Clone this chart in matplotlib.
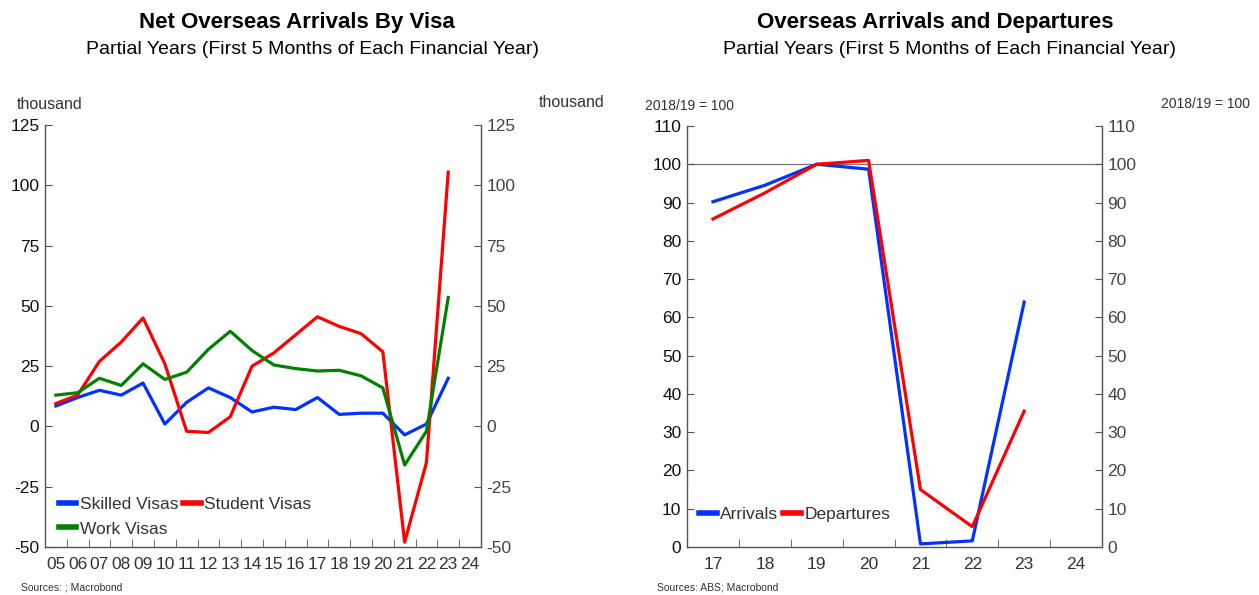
import matplotlib.pyplot as plt
from matplotlib.ticker import FixedLocator

plt.rcParams['font.family'] = ['Liberation Sans', 'DejaVu Sans']

# Left panel data: net overseas arrivals by visa (thousand)
years_left = [5, 6, 7, 8, 9, 10, 11, 12, 13, 14, 15, 16, 17, 18, 19, 20, 21, 22, 23]
skilled = [8.5, 12, 15, 13, 18, 1, 10, 16, 12, 6, 8, 7, 12, 5, 5.5, 5.5, -3.5, 1, 20]
student = [9.5, 13, 27, 35, 45, 26, -2, -2.5, 4, 25, 30.5, 38, 45.5, 41.5, 38.5, 31, -48, -15, 105.5]
work = [13, 14, 20, 17, 26, 19.5, 22.5, 32, 39.5, 31.5, 25.5, 24, 23, 23.3, 21, 16, -16, -2, 53.5]
left_ticks = list(range(5, 25))
left_labels = [f"{y:02d}" for y in left_ticks]

# Right panel data: overseas arrivals and departures (2018/19 = 100)
years_right = [17, 18, 19, 20, 21, 22, 23]
arrivals = [90.2, 94.5, 100, 98.7, 0.8, 1.6, 64]
departures = [85.7, 92.5, 100, 101, 15, 5.3, 35.5]
right_ticks = list(range(17, 25))
right_labels = [str(y) for y in right_ticks]

BLUE = '#0033ff'
RED = '#ff0000'
GREEN = '#008000'
SPINE = '#555555'
TICK_SIZE = 12.5

fig = plt.figure(figsize=(12.59, 5.95), dpi=100)
ax1 = fig.add_axes([0.0357, 0.0807, 0.3463, 0.709])
ax2 = fig.add_axes([0.5457, 0.0807, 0.3296, 0.7076])


def style_axes(ax, xticks, xlabels, xlim, ylim, yticks):
    ax.set_xlim(*xlim)
    ax.set_ylim(*ylim)
    ax.spines['top'].set_visible(False)
    for s in ['left', 'right', 'bottom']:
        ax.spines[s].set_color(SPINE)
        ax.spines[s].set_linewidth(1.0)
    ax.set_yticks(yticks)
    ax.set_yticklabels([f"{v:g}" for v in yticks])
    ax.tick_params(axis='y', which='major', direction='in', length=5, color=SPINE,
                   labelsize=TICK_SIZE, labelcolor='#111111', left=True, right=True,
                   labelleft=True, labelright=False, pad=4)
    # right-hand copy of the y labels
    ax_r = ax.twinx()
    ax_r.set_ylim(*ylim)
    ax_r.set_yticks(yticks)
    ax_r.set_yticklabels([f"{v:g}" for v in yticks])
    ax_r.tick_params(axis='y', direction='in', length=5, color=SPINE,
                     labelsize=TICK_SIZE, labelcolor='#444444', pad=4)
    for s in ax_r.spines.values():
        s.set_visible(False)
    # category labels centred, tick marks between categories
    ax.set_xticks(xticks)
    ax.set_xticklabels(xlabels)
    ax.xaxis.set_minor_locator(FixedLocator([t - 0.5 for t in xticks] + [xticks[-1] + 0.5]))
    ax.tick_params(axis='x', which='major', length=0, labelsize=TICK_SIZE,
                   labelcolor='#333333', pad=7)
    ax.tick_params(axis='x', which='minor', direction='in', length=6, color=SPINE)
    return ax_r


def style_legend(leg):
    for h in leg.legend_handles:
        h.set_linewidth(4)
    for t in leg.get_texts():
        t.set_color('#333333')


# Left panel
l_sk, = ax1.plot(years_left, skilled, color=BLUE, lw=2.3, label='Skilled Visas')
l_st, = ax1.plot(years_left, student, color=RED, lw=2.3, label='Student Visas')
l_wk, = ax1.plot(years_left, work, color=GREEN, lw=2.3, label='Work Visas')
style_axes(ax1, left_ticks, left_labels, (4.5, 24.5), (-50, 125),
           [-50, -25, 0, 25, 50, 75, 100, 125])
leg1 = ax1.legend(handles=[l_sk, l_wk, l_st], loc='lower left', ncol=2, frameon=False,
                  fontsize=TICK_SIZE, handlelength=1.0, handletextpad=0.2,
                  columnspacing=0.3, labelspacing=0.55, borderaxespad=0.2,
                  bbox_to_anchor=(0.008, 0.0))
style_legend(leg1)

fig.text(0.236, 0.962, 'Net Overseas Arrivals By Visa', ha='center', va='center',
         fontsize=16, fontweight='bold')
fig.text(0.248, 0.916, 'Partial Years (First 5 Months of Each Financial Year)',
         ha='center', va='center', fontsize=14)
fig.text(0.0135, 0.824, 'thousand', ha='left', va='center', fontsize=11.5, color='#333333')
fig.text(0.480, 0.827, 'thousand', ha='right', va='center', fontsize=11.5, color='#333333')
fig.text(0.0167, 0.012, 'Sources: ; Macrobond', ha='left', va='center', fontsize=7.5,
         color='#333333')

# Right panel
ax2.axhline(100, color='#777777', lw=0.9, zorder=1)
ax2.plot(years_right, arrivals, color=BLUE, lw=2.3, label='Arrivals')
ax2.plot(years_right, departures, color=RED, lw=2.3, label='Departures')
style_axes(ax2, right_ticks, right_labels, (16.5, 24.5), (0, 110),
           list(range(0, 111, 10)))
leg2 = ax2.legend(loc='lower left', ncol=2, frameon=False, fontsize=TICK_SIZE,
                  handlelength=1.0, handletextpad=0.2, columnspacing=0.3,
                  borderaxespad=0.3, bbox_to_anchor=(0.0, 0.03))
style_legend(leg2)

fig.text(0.743, 0.962, 'Overseas Arrivals and Departures', ha='center', va='center',
         fontsize=16, fontweight='bold')
fig.text(0.754, 0.916, 'Partial Years (First 5 Months of Each Financial Year)',
         ha='center', va='center', fontsize=14)
fig.text(0.512, 0.822, '2018/19 = 100', ha='left', va='center', fontsize=10, color='#333333')
fig.text(0.993, 0.825, '2018/19 = 100', ha='right', va='center', fontsize=10, color='#333333')
fig.text(0.522, 0.012, 'Sources: ABS; Macrobond', ha='left', va='center', fontsize=7.5,
         color='#333333')

fig.savefig('out.png', dpi=100)
